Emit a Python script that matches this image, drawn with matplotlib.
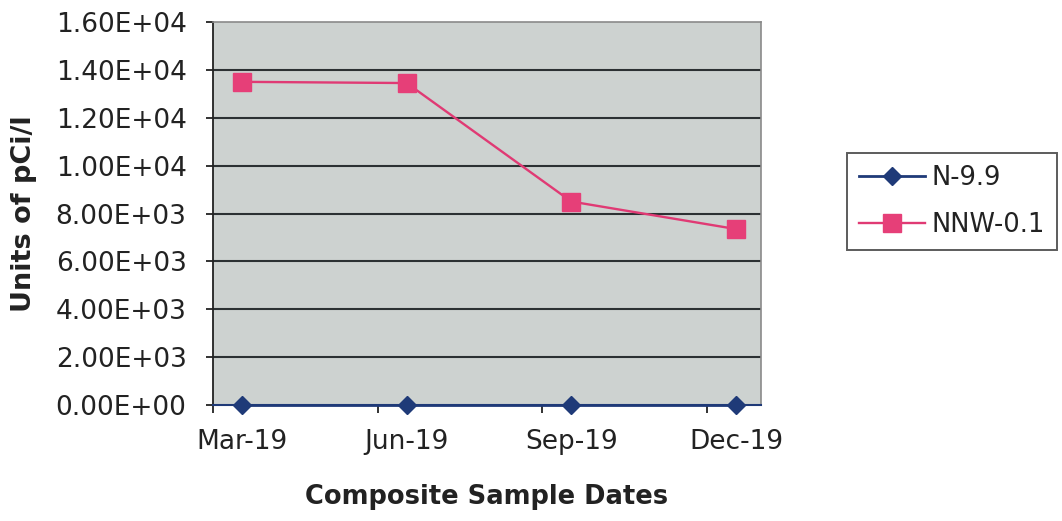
import matplotlib
matplotlib.use("Agg")
import matplotlib.pyplot as plt
from matplotlib.ticker import FuncFormatter, FixedLocator

dates = ["Mar-19", "Jun-19", "Sep-19", "Dec-19"]
n_9_9 = [0, 0, 0, 0]
nnw_0_1 = [13500, 13450, 8500, 7350]
y_ticks = [0, 2000, 4000, 6000, 8000, 10000, 12000, 14000, 16000]

plt.rcParams['font.family'] = ['DejaVu Sans']
txt = '#222222'

fig = plt.figure(figsize=(10.62, 5.21), dpi=100)
ax = fig.add_axes([213/1062, 1-405/521, (761-213)/1062, (405-22)/521])
ax.set_facecolor('#cdd2d0')

x = list(range(len(dates)))
off = 29/164.3

ax.set_xlim(-off, 3 + (761-736)/164.3)
ax.set_ylim(0, 16000)

# gridlines
ax.set_yticks(y_ticks)
for v in y_ticks[1:-1]:
    ax.axhline(v, color='#2c3133', lw=1.5, zorder=1)

ax.plot(x, nnw_0_1, color='#e03a74', lw=1.7, marker='s', ms=12.5,
        mfc='#e63f78', mec='#e63f78', label='NNW-0.1', zorder=3)
ax.plot(x, n_9_9, color='#1f3a78', lw=2.0, marker='D', ms=9.5,
        mfc='#1f3a78', mec='#1f3a78', label='N-9.9', zorder=4, clip_on=False)

ax.yaxis.set_major_formatter(FuncFormatter(lambda v, p: f"{v:.2E}"))
ax.tick_params(axis='y', direction='out', length=5, width=1.3, color='#222222',
               labelsize=19, labelcolor=txt, pad=14)

ax.set_xticks(x)
ax.set_xticklabels(dates)
ax.xaxis.set_minor_locator(FixedLocator([i - off for i in x]))
ax.tick_params(axis='x', which='major', length=0, labelsize=19, labelcolor=txt, pad=17)
ax.tick_params(axis='x', which='minor', direction='out', length=6, width=1.3, color='#222222')

for s in ['top', 'right']:
    ax.spines[s].set_color('#8a8a8a')
    ax.spines[s].set_linewidth(1.2)
ax.spines['left'].set_color('#222222')
ax.spines['left'].set_linewidth(1.3)
ax.spines['bottom'].set_color('#1f3a78')
ax.spines['bottom'].set_linewidth(1.5)

ax.set_ylabel('Units of pCi/l', fontsize=19.5, fontweight='bold', color=txt)
ax.yaxis.set_label_coords((24-213)/548, 0.5, transform=ax.transAxes)
ax.yaxis.label.set_va('center')
ax.set_xlabel('Composite Sample Dates', fontsize=18.5, fontweight='bold', color=txt)
ax.xaxis.set_label_coords(0.5, -(497-405)/383, transform=ax.transAxes)
ax.xaxis.label.set_va('center')

handles, labels = ax.get_legend_handles_labels()
leg = fig.legend(handles[::-1], labels[::-1], loc='upper left',
                 bbox_to_anchor=(847/1062, 1-153/521), bbox_transform=fig.transFigure,
                 fontsize=18.5, frameon=True, fancybox=False, shadow=False,
                 borderaxespad=0, borderpad=0.45, handlelength=2.6,
                 handletextpad=0.25, labelspacing=0.85, labelcolor=txt)
leg.get_frame().set_edgecolor('#333333')
leg.get_frame().set_linewidth(1.4)

fig.savefig('out.png', dpi=100)
